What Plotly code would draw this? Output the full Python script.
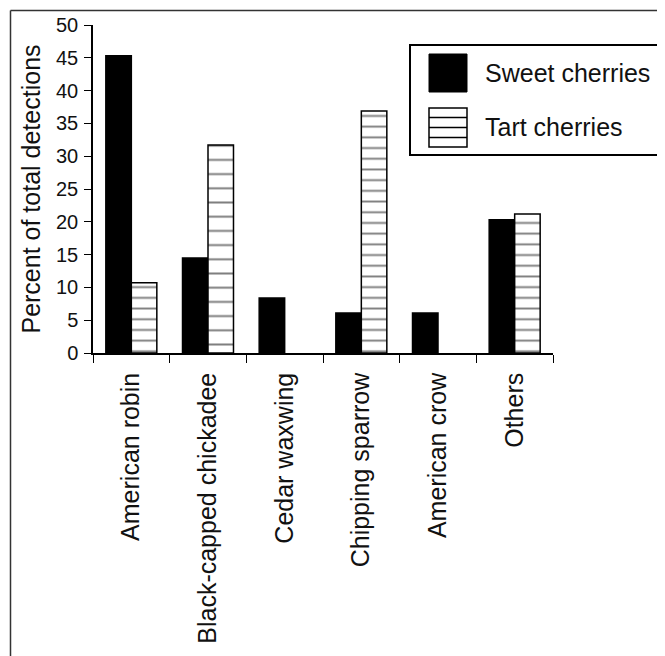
import plotly.graph_objects as go

# ---- data ----
categories = ["American robin", "Black-capped chickadee", "Cedar waxwing",
              "Chipping sparrow", "American crow", "Others"]
sweet = [45.3, 14.5, 8.4, 6.1, 6.1, 20.3]
tart = [10.7, 31.7, None, 36.9, None, 21.2]
y_ticks = [0, 5, 10, 15, 20, 25, 30, 35, 40, 45, 50]
series_names = ["Sweet cherries", "Tart cherries"]

OFF = 8  # page body margin offset
W, H = 665 - OFF, 656 - OFF
PL, PT, PR, PB = 93, 25, 553, 353  # plot area in page pixels
L, T = PL - OFF, PT - OFF
PW, PH = PR - PL, PB - PT
R, B = W - L - PW, H - T - PH
FONT = "Liberation Sans, Arial, sans-serif"


def px_x(p):
    return (p - PL) / PW


def px_y(p):
    return (PB - p) / PH


fig = go.Figure()
fig.add_trace(go.Bar(
    x=categories, y=sweet, name=series_names[0],
    marker=dict(color="black", line=dict(color="black", width=1.5)),
    showlegend=False,
))
fig.add_trace(go.Bar(
    x=categories, y=tart, name=series_names[1],
    marker=dict(color="white", line=dict(color="black", width=1.5),
                pattern=dict(shape="-", fgcolor="black", bgcolor="white",
                             size=[10.7, 14.2, 10.7, 10.7, 10.7, 10.7],
                             solidity=[0.18, 0.14, 0.18, 0.18, 0.18, 0.18],
                             fillmode="overlay")),
    showlegend=False,
))

shapes = []
# outer frame (top and left edges visible)
shapes.append(dict(type="line", xref="paper", yref="paper",
                   x0=px_x(10.5), x1=px_x(700), y0=px_y(10.5), y1=px_y(10.5),
                   line=dict(color="#333", width=1.5)))
shapes.append(dict(type="line", xref="paper", yref="paper",
                   x0=px_x(10.5), x1=px_x(10.5), y0=px_y(10.5), y1=px_y(700),
                   line=dict(color="#333", width=1.5)))
# legend box
shapes.append(dict(type="rect", xref="paper", yref="paper",
                   x0=px_x(410), x1=px_x(700), y0=px_y(155), y1=px_y(45),
                   line=dict(color="black", width=2), fillcolor="white", layer="above"))
# legend swatches
shapes.append(dict(type="rect", xref="paper", yref="paper",
                   x0=px_x(429), x1=px_x(467), y0=px_y(92), y1=px_y(54),
                   line=dict(color="black", width=1), fillcolor="black", layer="above"))
shapes.append(dict(type="rect", xref="paper", yref="paper",
                   x0=px_x(429), x1=px_x(467), y0=px_y(147), y1=px_y(108),
                   line=dict(color="black", width=1.5), fillcolor="white", layer="above"))
for yy in (117.5, 127.5, 137.5):
    shapes.append(dict(type="line", xref="paper", yref="paper",
                       x0=px_x(429), x1=px_x(467), y0=px_y(yy), y1=px_y(yy),
                       line=dict(color="black", width=1.5), layer="above"))

annotations = [
    dict(text=series_names[0], xref="paper", yref="paper", x=px_x(483), y=px_y(73),
         xanchor="left", yanchor="middle", showarrow=False,
         font=dict(family=FONT, size=25, color="#111")),
    dict(text=series_names[1], xref="paper", yref="paper", x=px_x(483), y=px_y(127),
         xanchor="left", yanchor="middle", showarrow=False,
         font=dict(family=FONT, size=25, color="#111")),
]

fig.update_layout(
    width=W, height=H,
    margin=dict(l=L, r=R, t=T, b=B, autoexpand=False),
    paper_bgcolor="white", plot_bgcolor="white",
    barmode="group", bargap=0.335, bargroupgap=0,
    font=dict(family=FONT, color="#111"),
    shapes=shapes, annotations=annotations,
    showlegend=False,
)
fig.update_xaxes(
    type="category", showgrid=False, showline=True, linecolor="black", linewidth=1.5,
    ticks="outside", tickson="boundaries", ticklen=8, tickwidth=1.2, tickcolor="black",
    tickangle=-90, tickfont=dict(family=FONT, size=25, color="#111"),
    ticklabelstandoff=8,
    automargin=False,
)
fig.update_yaxes(
    range=[0, 50], tickvals=y_ticks, showgrid=False, zeroline=False,
    showline=True, linecolor="black", linewidth=1.5,
    ticks="outside", ticklen=7, tickwidth=1.2, tickcolor="black",
    tickfont=dict(family=FONT, size=20, color="#111"),
    ticklabelstandoff=2,
    title=dict(text="Percent of total detections", font=dict(family=FONT, size=25, color="#111"),
               standoff=8),
    automargin=False,
)

fig.write_html("out.html")
